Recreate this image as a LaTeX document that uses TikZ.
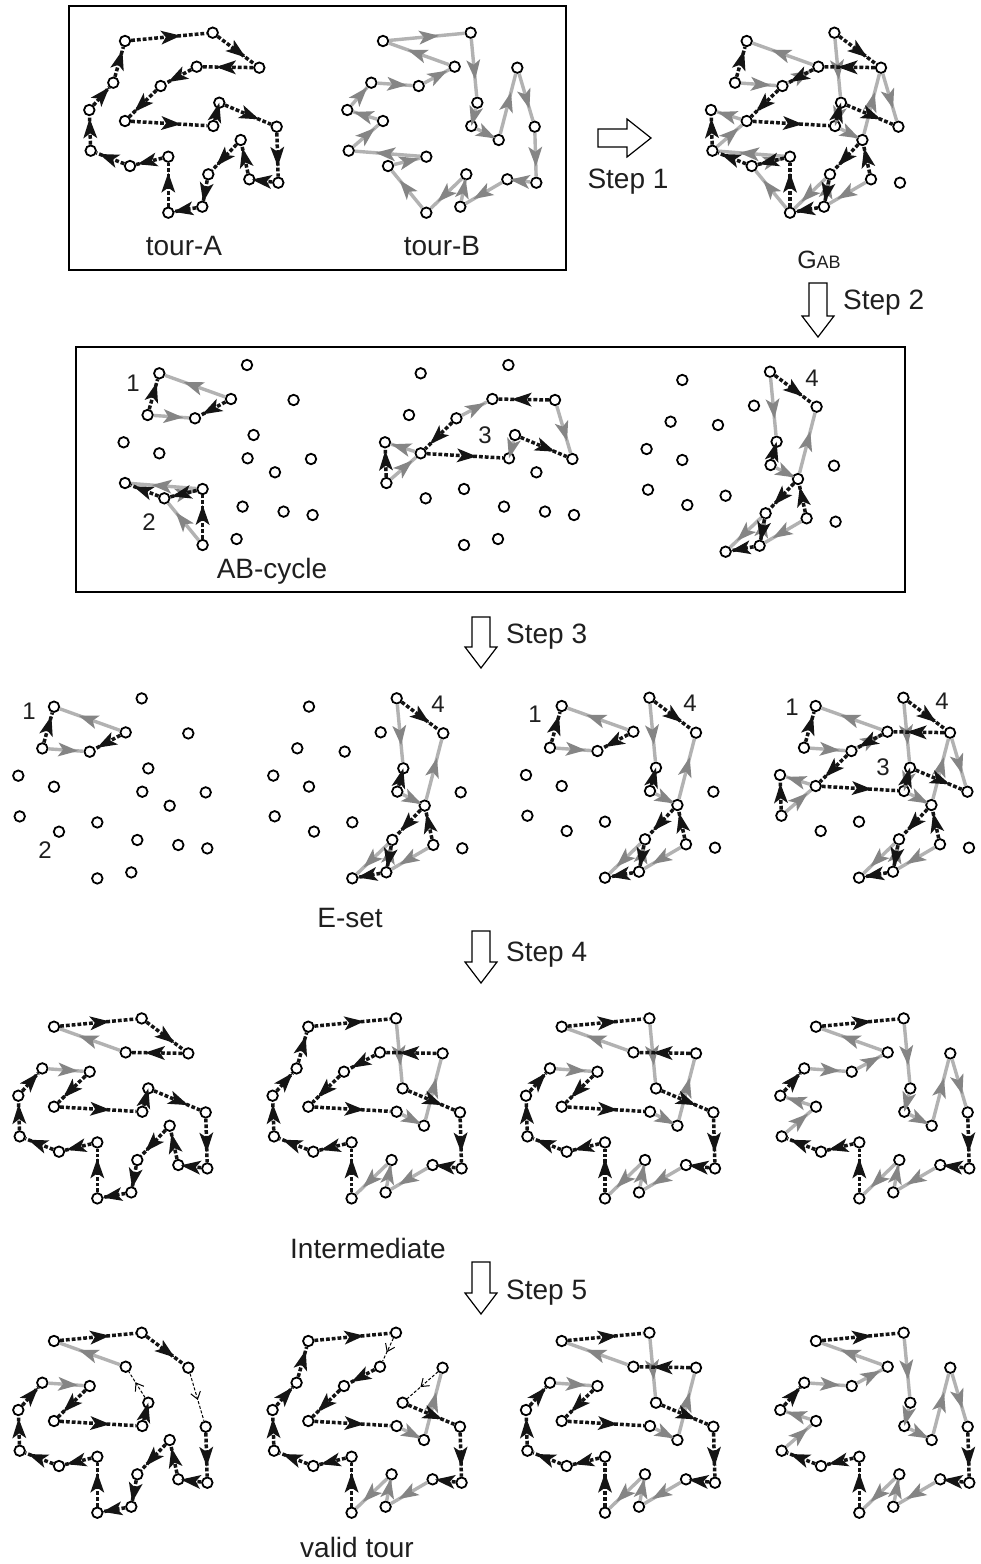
\documentclass[tikz,border=0pt]{standalone}
\usepackage{fontspec}
\setmainfont{Liberation Sans}
\usetikzlibrary{decorations.markings}
\def\ptlist{1/125/41,2/212.7/32.7,3/259.3/67.7,4/196.7/66.7,5/160.7/86,6/113.3/82.7,7/89.3/110,8/125/121,9/213.3/126,10/219.3/102.7,11/276.7/126.7,12/278.3/182.7,13/249.3/179.3,14/240.7/140,15/208.3/174.3,16/202.3/206.7,17/168.3/212.7,18/168.3/156.7,19/130/166,20/90.7/150.7}
\newcommand\panel[3]{\foreach \i/\x/\y in \ptlist {\node[pt] (#1-\i) at ({\x+(#2)},{\y+(#3)}) {};}}
\newcommand\Aedges[2]{\foreach \a/\b in {#2} {\draw[aedge] (#1-\a) -- (#1-\b);}}
\newcommand\Bedges[2]{\foreach \a/\b in {#2} {\draw[bedge] (#1-\a) -- (#1-\b);}}
\newcommand\Nedges[2]{\foreach \a/\b in {#2} {\draw[nedge] (#1-\a) -- (#1-\b);}}
\newcommand\downblk[3]{\draw[blk] ({#1-9},#2) -- ({#1+9},#2) -- ({#1+9},{#3-21}) -- ({#1+16},{#3-21}) -- (#1,#3) -- ({#1-16},{#3-21}) -- ({#1-9},{#3-21}) -- cycle;}
\begin{document}
\begin{tikzpicture}[x=1pt,y=-1pt,
  pt/.style={circle,draw=black,line width=1.8pt,fill=white,minimum size=10.5pt,inner sep=0pt},
  aedge/.style={draw=black!92,line width=3.5pt,dash pattern=on 3.8pt off 2pt,
    postaction={decorate,decoration={markings,mark=at position 0.5 with {\fill[black!92] (12pt,0pt) -- (-8pt,7pt) -- (-3pt,0pt) -- (-8pt,-7pt) -- cycle;}}}},
  bedge/.style={draw=black!30,line width=3.4pt,
    postaction={decorate,decoration={markings,mark=at position 0.5 with {\fill[black!48] (12pt,0pt) -- (-8pt,7pt) -- (-3pt,0pt) -- (-8pt,-7pt) -- cycle;}}}},
  nedge/.style={draw=black,line width=1pt,dash pattern=on 3pt off 1.8pt,
    postaction={decorate,decoration={markings,mark=at position 0.5 with {\draw[solid,line width=1pt] (-5pt,5pt) -- (2pt,0pt) -- (-5pt,-5pt);}}}},
  lbl/.style={font=\fontsize{28}{30}\selectfont,text=black!88,inner sep=0pt},
  num/.style={font=\fontsize{24}{26}\selectfont,text=black!88,inner sep=0pt},
  blk/.style={draw=black,line width=1.2pt,fill=white},
  frame/.style={draw=black,line width=1.4pt}]
\useasboundingbox (0,0) rectangle (981,1564);
\fill[white] (0,0) rectangle (981,1564);
% frames
\draw[frame] (69,6) rectangle (566,270);
\draw[frame] (76,347) rectangle (905,592);
% points
\panel{ta}{0}{0}
\panel{tb}{258}{0}
\panel{g}{621.7}{0}
\panel{c1}{34.3}{332.3}
\panel{c2}{295.7}{332.3}
\panel{c3}{557.3}{339}
\panel{e1}{-71}{665.7}
\panel{e2}{184}{665.6}
\panel{e3}{436.7}{665}
\panel{e4}{690.7}{665}
\panel{i1}{-71}{985.7}
\panel{i2}{183.3}{985.7}
\panel{i3}{436.7}{985.7}
\panel{i4}{691}{985.7}
\panel{v1}{-71}{1300}
\panel{v2}{183.3}{1300}
\panel{v3}{436.7}{1300}
\panel{v4}{691}{1300}
% tour A, tour B
\Aedges{ta}{1/2,2/3,3/4,4/5,5/8,8/9,9/10,10/11,11/12,12/13,13/14,14/15,15/16,16/17,17/18,18/19,19/20,20/7,7/6,6/1}
\Bedges{tb}{1/2,2/10,10/9,9/14,14/3,3/11,11/12,12/13,13/16,16/15,15/17,17/19,19/18,18/20,20/8,8/7,7/6,6/5,5/4,4/1}
% G_AB
\Bedges{g}{2/10,10/9,9/14,14/3,3/11,13/16,16/15,15/17,17/19,19/18,18/20,20/8,8/7,6/5,5/4,4/1}
\Aedges{g}{2/3,3/4,4/5,5/8,8/9,9/10,10/11,13/14,14/15,15/16,16/17,17/18,18/19,19/20,20/7,6/1}
% AB-cycles
\Bedges{c1}{4/1,6/5,18/20,19/18,17/19}
\Aedges{c1}{4/5,6/1,19/20,18/19,17/18}
\Bedges{c2}{5/4,8/7,20/8,10/9,3/11}
\Aedges{c2}{3/4,5/8,20/7,8/9,10/11}
\Bedges{c3}{2/10,9/14,14/3,13/16,16/15,15/17}
\Aedges{c3}{2/3,9/10,14/15,13/14,15/16,16/17}
% E-sets
\Bedges{e1}{4/1,6/5}
\Aedges{e1}{4/5,6/1}
\Bedges{e2}{2/10,9/14,14/3,13/16,16/15,15/17}
\Aedges{e2}{2/3,9/10,14/15,13/14,15/16,16/17}
\Bedges{e3}{4/1,6/5,2/10,9/14,14/3,13/16,16/15,15/17}
\Aedges{e3}{4/5,6/1,2/3,9/10,14/15,13/14,15/16,16/17}
\Bedges{e4}{4/1,6/5,5/4,8/7,20/8,10/9,3/11,2/10,9/14,14/3,13/16,16/15,15/17}
\Aedges{e4}{4/5,6/1,3/4,5/8,20/7,8/9,10/11,2/3,9/10,14/15,13/14,15/16,16/17}
% intermediate
\Bedges{i1}{4/1,6/5}
\Aedges{i1}{1/2,2/3,3/4,5/8,8/9,9/10,10/11,11/12,12/13,13/14,14/15,15/16,16/17,17/18,18/19,19/20,20/7,7/6}
\Bedges{i2}{2/10,9/14,14/3,13/16,16/15,15/17}
\Aedges{i2}{1/2,3/4,4/5,5/8,8/9,10/11,11/12,12/13,17/18,18/19,19/20,20/7,7/6,6/1}
\Bedges{i3}{4/1,6/5,2/10,9/14,14/3,13/16,16/15,15/17}
\Aedges{i3}{1/2,3/4,5/8,8/9,10/11,11/12,12/13,17/18,18/19,19/20,20/7,7/6}
\Bedges{i4}{4/1,6/5,5/4,8/7,20/8,10/9,3/11,2/10,9/14,14/3,13/16,16/15,15/17}
\Aedges{i4}{1/2,11/12,12/13,17/18,18/19,19/20,7/6}
% valid tours
\Bedges{v1}{4/1,6/5}
\Aedges{v1}{1/2,2/3,5/8,8/9,9/10,11/12,12/13,13/14,14/15,15/16,16/17,17/18,18/19,19/20,20/7,7/6}
\Nedges{v1}{10/4,3/11}
\Bedges{v2}{9/14,14/3,13/16,16/15,15/17}
\Aedges{v2}{1/2,4/5,5/8,8/9,10/11,11/12,12/13,17/18,18/19,19/20,20/7,7/6,6/1}
\Nedges{v2}{2/4,3/10}
\Bedges{v3}{4/1,6/5,2/10,9/14,14/3,13/16,16/15,15/17}
\Aedges{v3}{1/2,3/4,5/8,8/9,10/11,11/12,12/13,17/18,18/19,19/20,20/7,7/6}
\Bedges{v4}{4/1,6/5,5/4,8/7,20/8,10/9,3/11,2/10,9/14,14/3,13/16,16/15,15/17}
\Aedges{v4}{1/2,11/12,12/13,17/18,18/19,19/20,7/6}
% numbers
\node[num] (n1a) at (133,383) {1};
\node[num] (n2a) at (149,522) {2};
\node[num] (n3a) at (485,435) {3};
\node[num] (n4a) at (812,378) {4};
\node[num] (n1b) at (29,711) {1};
\node[num] (n2b) at (45,850) {2};
\node[num] (n4b) at (438,704) {4};
\node[num] (n1c) at (535,714) {1};
\node[num] (n4c) at (690,703) {4};
\node[num] (n1d) at (792,707) {1};
\node[num] (n3d) at (883,767) {3};
\node[num] (n4d) at (942,701) {4};
% block arrows
\draw[blk] (598,129) -- (627,129) -- (627,119) -- (651,138) -- (627,157) -- (627,147) -- (598,147) -- cycle;
\downblk{818}{283}{337}
\downblk{481}{617}{668}
\downblk{481}{931}{983}
\downblk{481}{1262}{1314}
% labels
\node[lbl] (lA) at (184,246) {tour-A};
\node[lbl] (lB) at (442,246) {tour-B};
\node[lbl] (lG) at (819,260) {{\fontsize{25}{28}\selectfont G}{\fontsize{18}{20}\selectfont AB}};
\node[lbl] (s1) at (628,182) {Step 1};
\node[lbl,anchor=west] (s2) at (843,303) {Step 2};
\node[lbl,anchor=west] (s3) at (506,637) {Step 3};
\node[lbl,anchor=west] (s4) at (506,955) {Step 4};
\node[lbl,anchor=west] (s5) at (506,1293) {Step 5};
\node[lbl] (lAB) at (272,571) {AB-cycle};
\node[lbl] (lE) at (350,918) {E-set};
\node[lbl] (lI) at (368,1248) {Intermediate};
\node[lbl] (lV) at (357,1547) {valid tour};
\end{tikzpicture}
\end{document}
